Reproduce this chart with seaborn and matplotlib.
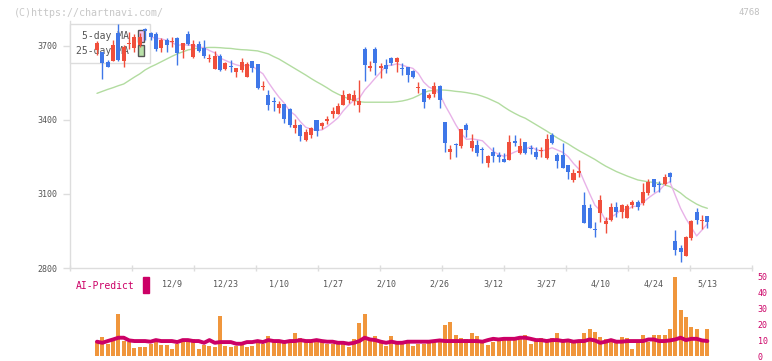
import numpy as np
import pandas as pd
import matplotlib
matplotlib.use("Agg")
import matplotlib.pyplot as plt
import matplotlib.patches as mpatches
import seaborn as sns

# daily candles, oldest first
opens = [3684, 3676, 3635, 3639, 3753, 3639, 3707, 3691, 3704, 3769,
         3751, 3749, 3693, 3724, 3718, 3734, 3684, 3747, 3657, 3707,
         3691, 3648, 3607, 3660, 3607, 3618, 3596, 3603, 3576, 3639,
         3627, 3533, 3501, 3474, 3448, 3465, 3445, 3366, 3380, 3319,
         3339, 3400, 3376, 3397, 3424, 3424, 3461, 3481, 3478, 3461,
         3687, 3612, 3687, 3610, 3623, 3650, 3636, 3609, 3614, 3600,
         3529, 3525, 3488, 3505, 3538, 3391, 3272, 3303, 3296, 3380,
         3285, 3299, 3280, 3224, 3271, 3258, 3242, 3238, 3315, 3267,
         3310, 3284, 3271, 3274, 3247, 3339, 3258, 3258, 3218, 3157,
         3184, 3055, 3042, 2956, 3022, 2977, 2995, 3049, 3028, 3002,
         3055, 3066, 3062, 3103, 3161, 3138, 3139, 3184, 2910, 2880,
         2850, 2923, 3028, 2990, 3011]
highs = [3720, 3676, 3643, 3724, 3789, 3704, 3758, 3749, 3753, 3774,
         3758, 3758, 3731, 3734, 3738, 3738, 3711, 3762, 3724, 3720,
         3724, 3668, 3680, 3666, 3634, 3643, 3612, 3653, 3636, 3639,
         3627, 3558, 3522, 3492, 3477, 3465, 3448, 3404, 3384, 3362,
         3370, 3400, 3393, 3416, 3454, 3468, 3522, 3511, 3522, 3562,
         3697, 3640, 3697, 3632, 3646, 3657, 3657, 3630, 3616, 3603,
         3555, 3525, 3511, 3555, 3542, 3391, 3299, 3308, 3362, 3387,
         3342, 3319, 3292, 3258, 3292, 3271, 3265, 3339, 3339, 3326,
         3310, 3299, 3292, 3292, 3342, 3349, 3267, 3305, 3218, 3200,
         3238, 3109, 3058, 2988, 3096, 3008, 3062, 3069, 3060, 3058,
         3076, 3076, 3143, 3161, 3161, 3153, 3180, 3190, 2954, 2893,
         2931, 2995, 3042, 3015, 3011]
lows = [3664, 3566, 3615, 3639, 3639, 3615, 3688, 3676, 3696, 3724,
        3724, 3680, 3677, 3677, 3697, 3623, 3653, 3704, 3650, 3677,
        3650, 3636, 3607, 3600, 3603, 3596, 3576, 3596, 3576, 3596,
        3525, 3522, 3441, 3438, 3430, 3387, 3370, 3346, 3316, 3315,
        3326, 3335, 3362, 3383, 3407, 3424, 3461, 3468, 3461, 3434,
        3559, 3600, 3583, 3572, 3589, 3623, 3593, 3583, 3555, 3569,
        3511, 3447, 3484, 3495, 3447, 3272, 3241, 3251, 3285, 3332,
        3276, 3254, 3224, 3208, 3231, 3231, 3231, 3238, 3295, 3262,
        3262, 3262, 3242, 3251, 3242, 3301, 3204, 3204, 3160, 3150,
        3168, 2981, 2961, 2927, 2988, 2941, 2991, 3008, 3002, 3002,
        3042, 3035, 3055, 3096, 3107, 3107, 3136, 3147, 2853, 2826,
        2850, 2914, 2977, 2958, 2961]
closes = [3712, 3631, 3615, 3704, 3643, 3696, 3713, 3738, 3736, 3761,
          3735, 3688, 3724, 3704, 3722, 3670, 3711, 3708, 3707, 3680,
          3661, 3652, 3660, 3603, 3630, 3615, 3610, 3634, 3627, 3610,
          3529, 3536, 3461, 3471, 3465, 3404, 3380, 3380, 3335, 3353,
          3366, 3357, 3387, 3404, 3437, 3457, 3501, 3505, 3501, 3478,
          3623, 3619, 3632, 3619, 3606, 3632, 3650, 3605, 3583, 3576,
          3533, 3474, 3501, 3538, 3481, 3306, 3281, 3300, 3362, 3359,
          3315, 3265, 3277, 3254, 3254, 3249, 3231, 3310, 3306, 3295,
          3267, 3281, 3251, 3277, 3322, 3306, 3235, 3204, 3190, 3184,
          3194, 2981, 2961, 2953, 3076, 2991, 3049, 3028, 3055, 3051,
          3066, 3049, 3107, 3147, 3130, 3135, 3168, 3170, 2873, 2864,
          2927, 2991, 2995, 2993, 2988]
ma25 = [3508, 3516, 3524, 3531, 3539, 3546, 3560, 3574, 3587, 3603,
        3615, 3625, 3636, 3647, 3658, 3668, 3676, 3684, 3688, 3692,
        3693, 3694, 3694, 3693, 3691, 3690, 3687, 3685, 3684, 3682,
        3680, 3674, 3668, 3657, 3647, 3634, 3621, 3608, 3595, 3582,
        3568, 3555, 3543, 3530, 3516, 3505, 3495, 3486, 3480, 3474,
        3472, 3472, 3472, 3472, 3472, 3472, 3474, 3477, 3482, 3489,
        3499, 3511, 3518, 3520, 3522, 3521, 3519, 3516, 3514, 3511,
        3507, 3503, 3496, 3488, 3478, 3468, 3453, 3439, 3427, 3416,
        3407, 3394, 3381, 3368, 3355, 3341, 3327, 3315, 3303, 3289,
        3276, 3264, 3252, 3240, 3226, 3213, 3202, 3191, 3182, 3173,
        3165, 3157, 3153, 3149, 3147, 3143, 3137, 3130, 3118, 3104,
        3086, 3072, 3059, 3049, 3042]
volume = [9.6, 12, 7.7, 9.8, 26.5, 9.6, 8.8, 5, 5.6, 5.6,
          7.5, 8.8, 7, 7, 4.5, 7.5, 9.2, 8.8, 10.6, 4.5,
          7, 6.3, 5.6, 25.2, 6.3, 5.6, 6.3, 7.5, 5.6, 6.3,
          8.5, 7.5, 12.7, 8.8, 8.8, 9.8, 8.8, 14.4, 11.3, 9.6,
          8.8, 10.2, 9.2, 7.5, 7.5, 7.5, 7.7, 5.6, 10.6, 20.8,
          26.5, 10.6, 12.7, 9.6, 6.3, 12.7, 9.6, 7.5, 9.6, 6.3,
          7.5, 7.5, 9.8, 8.8, 10.6, 19.6, 21.3, 13.3, 11.3, 10.6,
          14.4, 12.7, 8.8, 7, 8.8, 11.3, 9.8, 10.6, 10.8, 12.1,
          12.9, 7.3, 10.8, 11.5, 10.8, 11.5, 14.6, 10.8, 10.8, 8.3,
          8.9, 14.2, 17.1, 15.2, 12.1, 10.8, 10.4, 9.4, 12.1, 11.5,
          4.6, 9.4, 12.9, 9, 12.9, 12.9, 12.9, 17.1, 49.6, 29.2,
          24.6, 18.3, 16.7, 10.8, 17.1]
ai_predict = [9, 8.3, 9.4, 10.4, 11.5, 11.5, 9.8, 9.4, 9.4, 9.4,
              9, 10, 9.4, 9.4, 9.4, 8.75, 10, 10, 9.4, 9.4,
              8.3, 10, 8.3, 8.75, 8.75, 8.75, 7.7, 7.7, 8.75, 8.75,
              9.4, 8.75, 10, 9.4, 9.4, 8.75, 9.4, 9.4, 10, 9.4,
              9.4, 10, 9.4, 9, 9, 8.3, 8.3, 7.7, 8.3, 9.4,
              11.5, 10.4, 10, 9, 8.3, 9, 8.3, 8.3, 9, 9,
              9, 9, 9, 9.4, 9.8, 9.4, 9.4, 9.4, 9.4, 9.4,
              9.4, 9.4, 9, 10, 10.8, 10.4, 10.8, 10.8, 10.8, 11.5,
              11.5, 10.8, 10, 10, 9.4, 10, 10, 9.4, 9.8, 9,
              9.4, 9.4, 10.4, 9.8, 8.3, 9, 10, 9, 9, 9.4,
              9.4, 9.4, 9.4, 10.4, 10.4, 9.4, 9.4, 9.8, 10.4, 11.5,
              10, 10.8, 10.8, 9.8, 9.4]
date_labels = ["12/9", "12/23", "1/10", "1/27", "2/10", "2/26",
               "3/12", "3/27", "4/10", "4/24", "5/13"]
date_pos = [14, 24, 34, 44, 54, 64, 74, 84, 94, 104, 114]
price_ticks = [2800, 3100, 3400, 3700]
vol_ticks = [0, 10, 20, 30, 40, 50]

df = pd.DataFrame({"open": opens, "high": highs, "low": lows,
                   "close": closes, "ma25": ma25,
                   "volume": volume, "ai": ai_predict})
df["i"] = np.arange(len(df))
df["ma5"] = df["close"].rolling(5, min_periods=1).mean()

UP, DOWN = "#f04f3c", "#3f77e8"
GRID = "#dddddd"
TXT = "#555555"
MAG = "#cc0066"

sns.set_style("white")
plt.rcParams["font.family"] = ["DejaVu Sans Mono"]

fig = plt.figure(figsize=(7.72, 3.61), dpi=100)
ax = fig.add_axes([70 / 772, 93 / 361, 682 / 772, 246.7 / 361])
axv = fig.add_axes([70 / 772, 5 / 361, 682 / 772, 79.5 / 361])

# moving averages
sns.lineplot(data=df, x="i", y="ma25", color="#b2dca0", lw=1, ax=ax, zorder=2)
sns.lineplot(data=df, x="i", y="ma5", color="#e8b2e8", lw=1, ax=ax, zorder=2)

# candles
up = df["close"] >= df["open"]
cols = np.where(up, UP, DOWN)
ax.vlines(df["i"], df["low"], df["high"], colors=cols, lw=1, zorder=3)
body = (df["close"] - df["open"]).abs().clip(lower=4)
ax.bar(df["i"], body, bottom=df[["open", "close"]].min(axis=1),
       width=0.75, color=cols, zorder=4, linewidth=0)

xmin, xmax = -5.04, 122.34
ax.set_xlim(xmin, xmax)
ax.set_ylim(2800, 3800)
ax.set_yticks(price_ticks)
ax.set_xticks(date_pos)
ax.set_xticklabels(date_labels)
ax.set_xticks(np.linspace(xmin, xmax, 12), minor=True)
ax.tick_params(axis="y", left=True, length=5, width=1, color=GRID,
               labelsize=6, labelcolor=TXT, pad=4)
ax.tick_params(axis="x", which="major", length=0, labelsize=6,
               labelcolor=TXT, pad=8)
ax.tick_params(axis="x", which="minor", bottom=True, direction="inout",
               length=5, width=1, color=GRID)
ax.set_xlabel("")
ax.set_ylabel("")
for s in ["top", "right"]:
    ax.spines[s].set_visible(False)
for s in ["left", "bottom"]:
    ax.spines[s].set_color(GRID)
    ax.spines[s].set_linewidth(1)

handles = [mpatches.Patch(facecolor="#f2c4f2", edgecolor="#555555", lw=1),
           mpatches.Patch(facecolor="#b8e0a8", edgecolor="#555555", lw=1)]
leg = ax.legend(handles, ["5-day MA", "25-day MA"], loc="upper left",
                bbox_to_anchor=(0, 0.989), markerfirst=False, fontsize=7,
                handlelength=0.62, handleheight=1.5, labelspacing=0.24,
                handletextpad=0.9, borderpad=0.65, borderaxespad=0,
                fancybox=False, framealpha=1, edgecolor=GRID,
                labelcolor=TXT)
leg.get_frame().set_linewidth(1)
leg.set_zorder(2.5)

# volume panel
axv.bar(df["i"], df["volume"], width=0.75, color="#f0963c", linewidth=0,
        zorder=2)
sns.lineplot(data=df, x="i", y="ai", color=MAG, lw=2.8, ax=axv, zorder=3)
axv.set_xlim(xmin, xmax)
axv.set_ylim(0, 50)
axv.set_yticks(vol_ticks)
axv.yaxis.tick_right()
axv.tick_params(axis="y", right=True, left=False, length=0, labelsize=6,
                labelcolor=MAG, pad=4)
axv.set_xticks([])
axv.set_xlabel("")
axv.set_ylabel("")
axv.patch.set_alpha(0)
for s in axv.spines.values():
    s.set_visible(False)

fig.text(76 / 772, 1 - 286 / 361, "AI-Predict", color=MAG, fontsize=7,
         va="center", ha="left")
fig.patches.append(mpatches.Rectangle((142.7 / 772, 1 - 293 / 361),
                                      6.3 / 772, 16 / 361, color=MAG,
                                      transform=fig.transFigure, figure=fig))
fig.text(14 / 772, 1 - 12.5 / 361, "(C)https://chartnavi.com/",
         color="#c8c8c8", fontsize=7.2, va="center", ha="left")
fig.text(760 / 772, 1 - 12.5 / 361, "4768", color="#c0c0c0", fontsize=6.5,
         va="center", ha="right")

fig.savefig("out.png", dpi=100)
